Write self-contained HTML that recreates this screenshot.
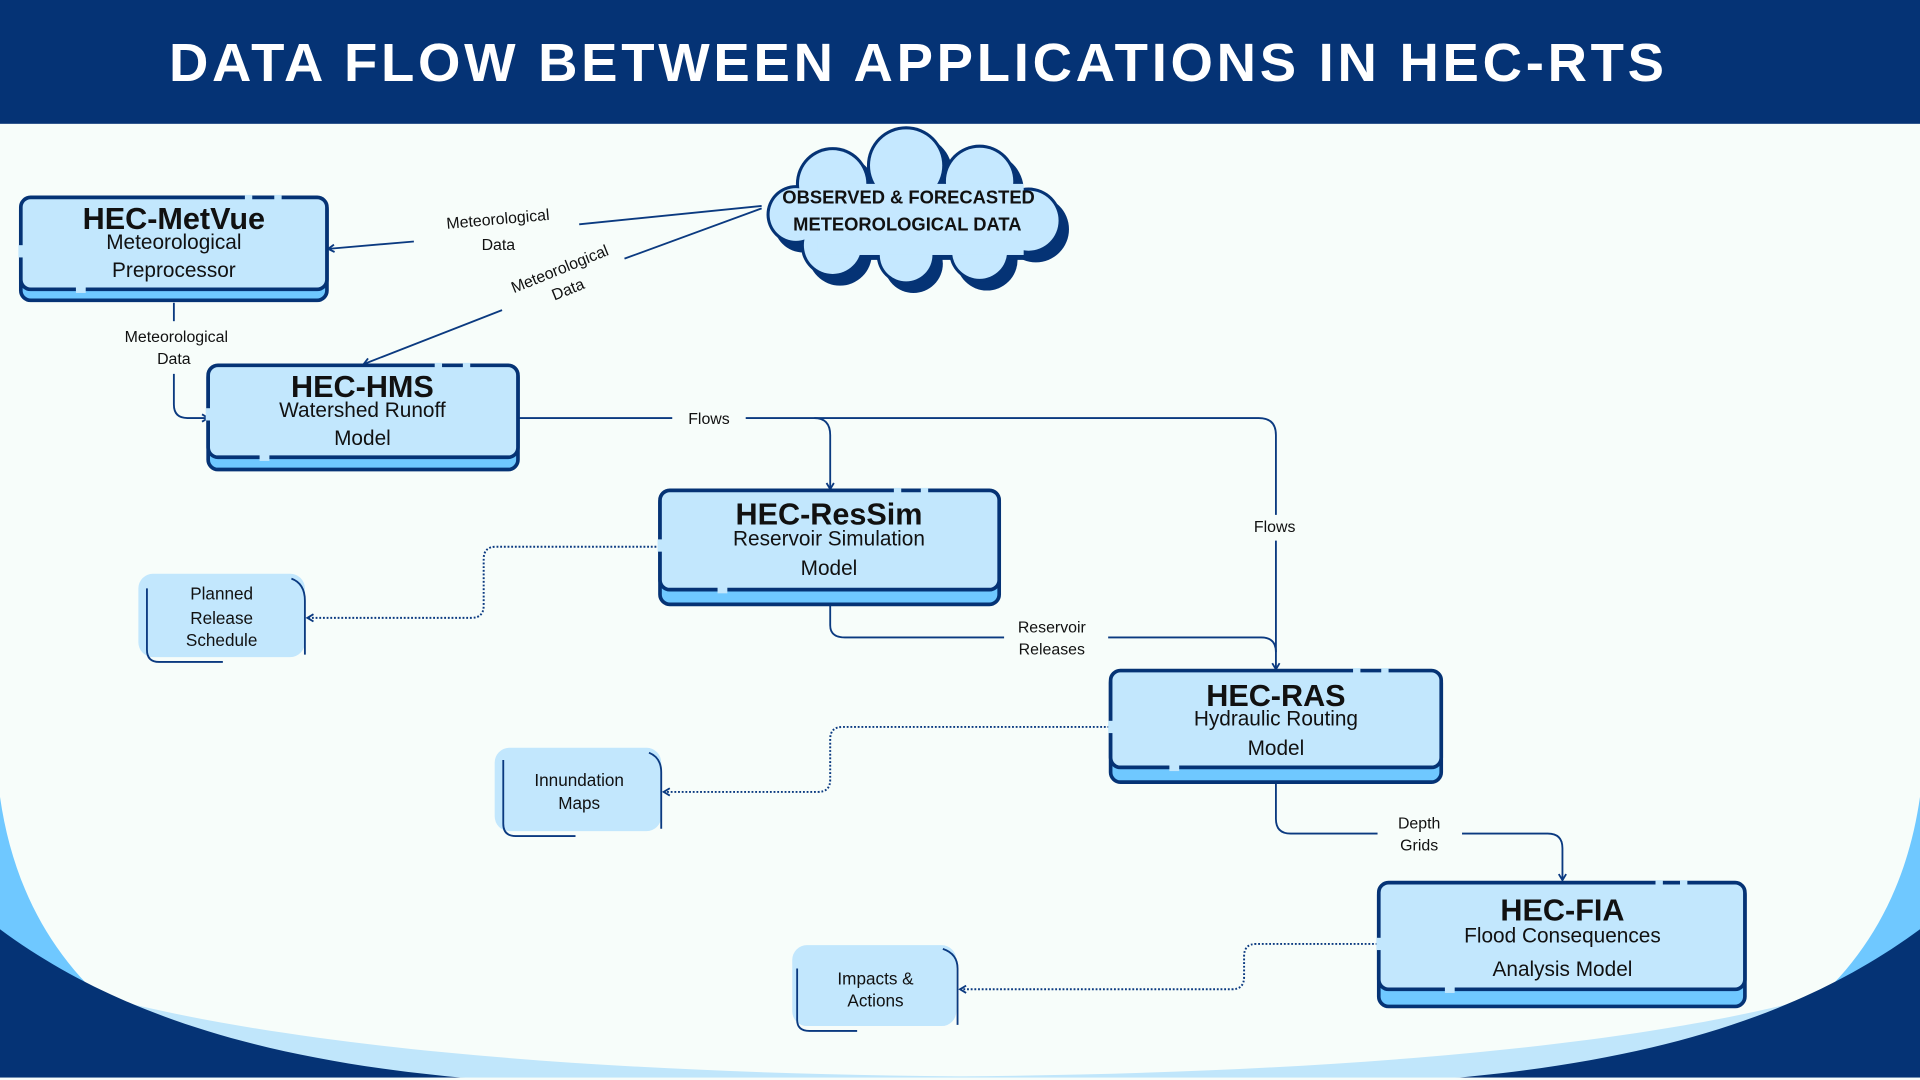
<!DOCTYPE html>
<html><head><meta charset="utf-8"><style>
html,body{margin:0;padding:0;width:1920px;height:1080px;overflow:hidden;background:#f7fdfa}
svg{display:block}
text{font-family:"Liberation Sans",sans-serif;fill:#111}
.t{font-weight:bold;font-size:25px;text-anchor:middle}
.s{font-size:17px;text-anchor:middle}
.l{font-size:13px;text-anchor:middle}
.n{font-size:14px;text-anchor:middle}
.c{fill:none;stroke:#0b3a80;stroke-width:1.5}
.d{fill:none;stroke:#0b3a80;stroke-width:1.6;stroke-dasharray:1.5 1.5}
</style></head><body>
<svg width="1920" height="1080" viewBox="0 0 1568 881" preserveAspectRatio="none" xmlns="http://www.w3.org/2000/svg">
<defs>
<marker id="a" markerWidth="8" markerHeight="8" refX="6" refY="4" orient="auto" markerUnits="userSpaceOnUse">
<path d="M1,1 L6,4 L1,7" fill="none" stroke="#0b3a80" stroke-width="1.5"/></marker>
</defs>
<rect x="0" y="0" width="1568" height="881" fill="#f7fdfa"/>
<!-- bottom decoration -->
<path d="M0,650 C10,720 40,780 95,825 L0,881Z" fill="#6fc8ff"/>
<path d="M1568,650 C1558,720 1528,780 1473,825 L1568,881Z" fill="#6fc8ff"/>
<path d="M80,812 C250,858 520,876 784,878 C1050,876 1320,858 1488,812 L1568,881 H0Z" fill="#c0e6fb"/>
<path d="M0,758 C100,832 230,868 400,881 H0Z" fill="#053375"/>
<path d="M1568,758 C1468,832 1338,868 1168,881 H1568Z" fill="#053375"/>
<rect x="0" y="879" width="1568" height="2" fill="#f7fdfa"/>
<!-- header -->
<rect x="0" y="0" width="1568" height="101" fill="#053375"/>
<text x="750" y="66" text-anchor="middle" textLength="1224" lengthAdjust="spacingAndGlyphs" style="font-weight:bold;font-size:44px;fill:#fff;letter-spacing:3px">DATA FLOW BETWEEN APPLICATIONS IN HEC-RTS</text>

<!-- cloud -->
<g transform="translate(6,7)" fill="#053375">
<circle cx="680" cy="150" r="30"/><circle cx="740" cy="135" r="32"/><circle cx="800" cy="148" r="30"/>
<circle cx="840" cy="180" r="27"/><circle cx="800" cy="205" r="25"/><circle cx="740" cy="208" r="24"/>
<circle cx="680" cy="200" r="26"/><circle cx="650" cy="175" r="24"/><rect x="665" y="150" width="170" height="55"/>
</g>
<g fill="#053375">
<circle cx="680" cy="150" r="30"/><circle cx="740" cy="135" r="32"/><circle cx="800" cy="148" r="30"/>
<circle cx="840" cy="180" r="27"/><circle cx="800" cy="205" r="25"/><circle cx="740" cy="208" r="24"/>
<circle cx="680" cy="200" r="26"/><circle cx="650" cy="175" r="24"/>
</g>
<g fill="#c5e8ff">
<circle cx="680" cy="150" r="27.5"/><circle cx="740" cy="135" r="29.5"/><circle cx="800" cy="148" r="27.5"/>
<circle cx="840" cy="180" r="24.5"/><circle cx="800" cy="205" r="22.5"/><circle cx="740" cy="208" r="21.5"/>
<circle cx="680" cy="200" r="23.5"/><circle cx="650" cy="175" r="21.5"/><rect x="668" y="150" width="168" height="58"/>
</g>
<text x="742" y="166" text-anchor="middle" style="font-weight:bold;font-size:15px">OBSERVED &amp; FORECASTED</text>
<text x="741" y="188" text-anchor="middle" style="font-weight:bold;font-size:15px">METEOROLOGICAL DATA</text>

<!-- connectors -->
<path class="c" d="M622,168 L473,183"/>
<path class="c" d="M338,197 L268,203" marker-end="url(#a)"/>
<text class="l" transform="translate(407,183) rotate(-5)">Meteorological</text>
<text class="l" x="407" y="204">Data</text>
<path class="c" d="M622,170 L510,211"/>
<path class="c" d="M410,253 L297,297" marker-end="url(#a)"/>
<g transform="translate(461,229) rotate(-22)"><text class="l" x="0" y="-6">Meteorological</text><text class="l" x="0" y="12">Data</text></g>
<path class="c" d="M142,247 V262"/>
<text class="l" x="144" y="279">Meteorological</text><text class="l" x="142" y="297">Data</text>
<path class="c" d="M142,305 V330 Q142,341 153,341 H170" marker-end="url(#a)"/>
<path class="c" d="M424,341 H549"/>
<text class="l" x="579" y="346">Flows</text>
<path class="c" d="M609,341 H665 Q678,341 678,355 V399" marker-end="url(#a)"/>
<path class="c" d="M665,341 H1028 Q1042,341 1042,355 V420"/>
<text class="l" x="1041" y="434">Flows</text>
<path class="c" d="M1042,441 V546" marker-end="url(#a)"/>
<path class="c" d="M678,493 V510 Q678,520 690,520 H820"/>
<text class="l" x="859" y="516">Reservoir</text><text class="l" x="859" y="534">Releases</text>
<path class="c" d="M905,520 H1030 Q1042,520 1042,532"/>
<path class="d" d="M539,446 H405 Q395,446 395,456 V494 Q395,504 385,504 H251" marker-end="url(#a)"/>
<path class="d" d="M906,593 H688 Q678,593 678,603 V636 Q678,646 668,646 H542" marker-end="url(#a)"/>
<path class="c" d="M1042,638 V668 Q1042,680 1054,680 H1125"/>
<text class="l" x="1159" y="676">Depth</text><text class="l" x="1159" y="694">Grids</text>
<path class="c" d="M1194,680 H1264 Q1276,680 1276,692 V718" marker-end="url(#a)"/>
<path class="d" d="M1125,770 H1026 Q1016,770 1016,780 V797 Q1016,807 1006,807 H784" marker-end="url(#a)"/>

<!-- boxes -->
<g stroke="#053375" stroke-width="3">
<rect x="17" y="163" width="250" height="82" rx="8" fill="#6fc8ff"/>
<rect x="17" y="161" width="250" height="75" rx="8" fill="#c2e7fd"/>
<rect x="170" y="300" width="253" height="83" rx="8" fill="#6fc8ff"/>
<rect x="170" y="298" width="253" height="75" rx="8" fill="#c2e7fd"/>
<rect x="539" y="402" width="277" height="91" rx="8" fill="#6fc8ff"/>
<rect x="539" y="400" width="277" height="81" rx="8" fill="#c2e7fd"/>
<rect x="907" y="549" width="270" height="89" rx="8" fill="#6fc8ff"/>
<rect x="907" y="547" width="270" height="79" rx="8" fill="#c2e7fd"/>
<rect x="1126" y="722" width="299" height="99" rx="8" fill="#6fc8ff"/>
<rect x="1126" y="720" width="299" height="87" rx="8" fill="#c2e7fd"/>
</g>
<!-- border gaps -->
<g fill="#c2e7fd">
<rect x="200" y="159" width="6" height="5"/><rect x="224" y="159" width="6" height="5"/><rect x="15" y="200" width="5" height="10"/><rect x="62" y="234" width="8" height="5"/>
<rect x="355" y="296" width="6" height="5"/><rect x="378" y="296" width="6" height="5"/><rect x="168" y="333" width="5" height="10"/><rect x="212" y="371" width="8" height="5"/>
<rect x="730" y="398" width="6" height="5"/><rect x="752" y="398" width="6" height="5"/><rect x="537" y="440" width="5" height="10"/><rect x="586" y="479" width="8" height="5"/>
<rect x="1105" y="545" width="6" height="5"/><rect x="1128" y="545" width="6" height="5"/><rect x="905" y="588" width="5" height="10"/><rect x="955" y="624" width="8" height="5"/>
<rect x="1352" y="718" width="6" height="5"/><rect x="1372" y="718" width="6" height="5"/><rect x="1124" y="765" width="5" height="10"/><rect x="1180" y="805" width="8" height="5"/>
</g>
<text class="t" x="142" y="187">HEC-MetVue</text><text class="s" x="142" y="203">Meteorological</text><text class="s" x="142" y="226">Preprocessor</text>
<text class="t" x="296" y="324">HEC-HMS</text><text class="s" x="296" y="340">Watershed Runoff</text><text class="s" x="296" y="363">Model</text>
<text class="t" x="677" y="428">HEC-ResSim</text><text class="s" x="677" y="445">Reservoir Simulation</text><text class="s" x="677" y="469">Model</text>
<text class="t" x="1042" y="576">HEC-RAS</text><text class="s" x="1042" y="592">Hydraulic Routing</text><text class="s" x="1042" y="616">Model</text>
<text class="t" x="1276" y="751">HEC-FIA</text><text class="s" x="1276" y="769">Flood Consequences</text><text class="s" x="1276" y="796">Analysis Model</text>

<!-- small nodes -->
<g>
<rect x="113" y="468" width="136" height="68" rx="12" fill="#c2e7fd"/>
<path class="c" d="M120,480 V530 Q120,540 130,540 H182 M238,472 Q249,476 249,490 V534"/>
<rect x="404" y="610" width="136" height="68" rx="12" fill="#c2e7fd"/>
<path class="c" d="M411,620 V672 Q411,682 421,682 H470 M530,614 Q540,618 540,630 V676"/>
<rect x="647" y="771" width="134" height="66" rx="12" fill="#c2e7fd"/>
<path class="c" d="M651,790 V832 Q651,841 661,841 H700 M770,774 Q782,778 782,790 V836"/>
</g>
<text class="n" x="181" y="489">Planned</text><text class="n" x="181" y="509">Release</text><text class="n" x="181" y="527">Schedule</text>
<text class="n" x="473" y="641">Innundation</text><text class="n" x="473" y="660">Maps</text>
<text class="n" x="715" y="803">Impacts &amp;</text><text class="n" x="715" y="821">Actions</text>
</svg>
</body></html>
